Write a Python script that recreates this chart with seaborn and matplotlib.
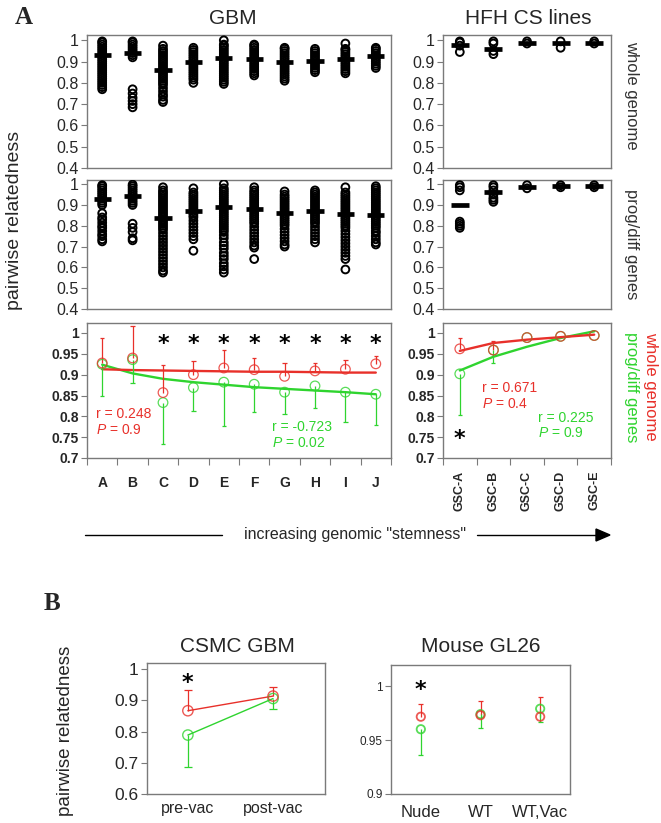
import numpy as np
import pandas as pd
import matplotlib
matplotlib.use("Agg")
import matplotlib.pyplot as plt
import seaborn as sns

sns.set_style("white")
plt.rcParams["font.family"] = ["Liberation Sans", "DejaVu Sans"]
plt.rcParams["mathtext.fontset"] = "custom"
plt.rcParams["mathtext.rm"] = "Liberation Sans"
plt.rcParams["mathtext.it"] = "Liberation Sans:italic"

# ---------------- data ----------------
gbm_cats = ["A", "B", "C", "D", "E", "F", "G", "H", "I", "J"]
hfh_cats = ["GSC-A", "GSC-B", "GSC-C", "GSC-D", "GSC-E"]

gbm_whole = [
    [0.770, 0.780, 0.790, 0.800, 0.810, 0.820, 0.830, 0.840, 0.850, 0.860, 0.870, 0.880, 0.890, 0.900, 0.910, 0.920, 0.930, 0.940, 0.950, 0.960, 0.970, 0.980, 0.990, 0.995],
    [0.685, 0.700, 0.715, 0.730, 0.750, 0.770, 0.920, 0.930, 0.940, 0.950, 0.960, 0.970, 0.980, 0.990, 0.995],
    [0.710, 0.720, 0.735, 0.745, 0.760, 0.775, 0.790, 0.800, 0.810, 0.820, 0.830, 0.840, 0.850, 0.860, 0.870, 0.880, 0.890, 0.900, 0.910, 0.920, 0.930, 0.940, 0.950, 0.960, 0.975],
    [0.800, 0.815, 0.825, 0.835, 0.845, 0.855, 0.865, 0.875, 0.885, 0.895, 0.905, 0.915, 0.925, 0.935, 0.945, 0.955, 0.965],
    [0.795, 0.805, 0.815, 0.825, 0.835, 0.845, 0.855, 0.865, 0.875, 0.885, 0.895, 0.905, 0.915, 0.925, 0.935, 0.945, 0.955, 0.965, 0.975, 0.980, 1.000],
    [0.835, 0.845, 0.855, 0.865, 0.875, 0.885, 0.895, 0.905, 0.915, 0.925, 0.935, 0.945, 0.955, 0.965, 0.975, 0.980],
    [0.810, 0.820, 0.830, 0.840, 0.850, 0.860, 0.870, 0.880, 0.890, 0.900, 0.910, 0.920, 0.930, 0.940, 0.950, 0.960, 0.965],
    [0.850, 0.860, 0.870, 0.880, 0.890, 0.900, 0.910, 0.920, 0.930, 0.940, 0.950, 0.960],
    [0.845, 0.855, 0.865, 0.875, 0.885, 0.895, 0.905, 0.915, 0.925, 0.935, 0.945, 0.955, 0.960, 0.985],
    [0.870, 0.880, 0.890, 0.900, 0.910, 0.920, 0.930, 0.940, 0.950, 0.960, 0.965],
]
gbm_whole_mean = [0.933, 0.940, 0.860, 0.900, 0.915, 0.912, 0.900, 0.905, 0.913, 0.928]

gbm_prog = [
    [0.725, 0.735, 0.750, 0.760, 0.775, 0.790, 0.800, 0.815, 0.830, 0.840, 0.860, 0.900, 0.910, 0.920, 0.930, 0.940, 0.950, 0.960, 0.970, 0.980, 0.990, 0.995],
    [0.730, 0.740, 0.770, 0.790, 0.810, 0.900, 0.910, 0.920, 0.930, 0.940, 0.950, 0.960, 0.970, 0.980, 0.990, 0.998],
    [0.575, 0.585, 0.600, 0.615, 0.630, 0.645, 0.660, 0.675, 0.690, 0.705, 0.720, 0.735, 0.750, 0.765, 0.780, 0.790, 0.800, 0.810, 0.820, 0.830, 0.840, 0.850, 0.860, 0.870, 0.880, 0.890, 0.900, 0.910, 0.920, 0.930, 0.940, 0.950, 0.960, 0.970, 0.985],
    [0.680, 0.735, 0.750, 0.765, 0.780, 0.795, 0.810, 0.825, 0.840, 0.850, 0.860, 0.870, 0.880, 0.890, 0.900, 0.910, 0.920, 0.930, 0.940, 0.950, 0.960, 0.980],
    [0.575, 0.590, 0.605, 0.620, 0.640, 0.655, 0.670, 0.690, 0.705, 0.720, 0.740, 0.755, 0.770, 0.780, 0.790, 0.800, 0.810, 0.820, 0.830, 0.840, 0.850, 0.860, 0.870, 0.880, 0.890, 0.900, 0.910, 0.920, 0.930, 0.940, 0.950, 0.960, 0.970, 0.980, 1.000],
    [0.640, 0.695, 0.705, 0.720, 0.735, 0.750, 0.765, 0.780, 0.795, 0.810, 0.820, 0.830, 0.840, 0.850, 0.860, 0.870, 0.880, 0.890, 0.900, 0.910, 0.920, 0.930, 0.940, 0.950, 0.960, 0.970, 0.985],
    [0.700, 0.710, 0.725, 0.740, 0.755, 0.770, 0.785, 0.800, 0.810, 0.820, 0.830, 0.840, 0.850, 0.860, 0.870, 0.880, 0.890, 0.900, 0.910, 0.920, 0.930, 0.940, 0.950, 0.965],
    [0.720, 0.735, 0.750, 0.765, 0.780, 0.795, 0.810, 0.820, 0.830, 0.840, 0.850, 0.860, 0.870, 0.880, 0.890, 0.900, 0.910, 0.920, 0.930, 0.940, 0.950, 0.960, 0.970],
    [0.590, 0.640, 0.655, 0.670, 0.685, 0.700, 0.715, 0.730, 0.745, 0.760, 0.775, 0.790, 0.800, 0.810, 0.820, 0.830, 0.840, 0.850, 0.860, 0.870, 0.880, 0.890, 0.900, 0.910, 0.920, 0.930, 0.940, 0.950, 0.960, 0.985],
    [0.710, 0.720, 0.735, 0.750, 0.765, 0.775, 0.790, 0.800, 0.810, 0.820, 0.830, 0.840, 0.850, 0.860, 0.870, 0.880, 0.890, 0.900, 0.910, 0.920, 0.930, 0.940, 0.950, 0.960, 0.970, 0.980, 0.990],
]
gbm_prog_mean = [0.929, 0.945, 0.835, 0.873, 0.889, 0.881, 0.862, 0.873, 0.857, 0.854]

hfh_whole = [
    [0.995, 0.990, 0.975, 0.945],
    [0.995, 0.985, 0.950, 0.935],
    [0.995, 0.985],
    [0.995, 0.965],
    [0.995, 0.985],
]
hfh_whole_mean = [0.976, 0.960, 0.989, 0.989, 0.989]

hfh_prog = [
    [0.995, 0.985, 0.970, 0.820, 0.810, 0.800, 0.790],
    [0.995, 0.985, 0.970, 0.950, 0.935, 0.925, 0.915],
    [0.995, 0.980],
    [0.995, 0.985],
    [0.995, 0.985],
]
hfh_prog_mean = [0.900, 0.963, 0.987, 0.990, 0.990]

gbm_red_mean = [0.928, 0.940, 0.857, 0.900, 0.916, 0.912, 0.896, 0.909, 0.913, 0.926]
gbm_red_upper = [0.988, 1.017, 0.924, 0.932, 0.960, 0.940, 0.929, 0.928, 0.934, 0.945]
gbm_green_mean = [0.925, 0.936, 0.833, 0.869, 0.882, 0.877, 0.858, 0.873, 0.858, 0.853]
gbm_green_lower = [0.850, 0.880, 0.733, 0.813, 0.777, 0.811, 0.806, 0.820, 0.786, 0.780]
gbm_red_fit = [0.913, 0.911, 0.910, 0.909, 0.908, 0.907, 0.907, 0.906, 0.905, 0.905]
gbm_green_fit = [0.924, 0.903, 0.890, 0.882, 0.876, 0.870, 0.866, 0.862, 0.858, 0.853]
gbm_stars = ["C", "D", "E", "F", "G", "H", "I", "J"]

hfh_red_mean = [0.962, 0.959, 0.989, 0.992, 0.994]
hfh_red_upper = [0.988, 0.980, 0.989, 0.992, 0.994]
hfh_green_mean = [0.902, 0.959, 0.989, 0.992, 0.994]
hfh_green_lower = [0.804, 0.927, 0.989, 0.992, 0.994]
hfh_red_fit = [0.957, 0.976, 0.984, 0.990, 0.996]
hfh_green_fit = [0.910, 0.943, 0.967, 0.988, 1.004]

csmc_cats = ["pre-vac", "post-vac"]
csmc_red_mean = [0.867, 0.914]
csmc_red_upper = [0.935, 0.944]
csmc_green_mean = [0.789, 0.906]
csmc_green_lower = [0.687, 0.874]

gl26_cats = ["Nude", "WT", "WT,Vac"]
gl26_red_mean = [0.9716, 0.9730, 0.9716]
gl26_red_upper = [0.9830, 0.9864, 0.9900]
gl26_green_mean = [0.9600, 0.9740, 0.9790]
gl26_green_lower = [0.9360, 0.9610, 0.9670]

# ---------------- style ----------------
RED = "#e8302a"
GREEN = "#2fd42f"
FRAME = "#7a7a7a"
W, H = 661, 823
fig = plt.figure(figsize=(W / 100, H / 100), dpi=100)


def add_ax(l, t, r, b):
    return fig.add_axes([l / W, 1 - b / H, (r - l) / W, (b - t) / H])


def frame(ax):
    for s in ax.spines.values():
        s.set_visible(True)
        s.set_color(FRAME)
        s.set_linewidth(1.0)
    ax.tick_params(axis="y", direction="out", length=4, width=0.8, color=FRAME, pad=2, left=True)


def ftext(px, py, s, **kw):
    fig.text(px / W, 1 - py / H, s, **kw)


def strip_panel(ax, cats, values, means, halfw):
    df = pd.DataFrame({
        "cat": [c for c, v in zip(cats, values) for _ in v],
        "val": [x for v in values for x in v],
    })
    sns.stripplot(data=df, x="cat", y="val", order=cats, jitter=False, ax=ax,
                  color="black", size=5.6, linewidth=1.4, edgecolor="black")
    for coll in ax.collections:
        coll.set_facecolor("none")
        coll.set_edgecolor("black")
    xs = np.arange(len(cats))
    ax.hlines(means, xs - halfw, xs + halfw, color="black", lw=3.4, zorder=5)
    ax.set_xlim(-0.5, len(cats) - 0.5)
    ax.set_xticks([])
    ax.set_xlabel("")
    ax.set_ylabel("")
    ax.set_yticks([0.4, 0.5, 0.6, 0.7, 0.8, 0.9, 1.0])
    ax.set_yticklabels(["0.4", "0.5", "0.6", "0.7", "0.8", "0.9", "1"], fontsize=11.5)
    frame(ax)


def open_points(ax, x, y, color, s, lw):
    sns.scatterplot(x=x, y=y, ax=ax, color=color, s=s, marker="o", zorder=6, legend=False)
    coll = ax.collections[-1]
    coll.set_facecolor("none")
    coll.set_edgecolor(color)
    coll.set_linewidth(lw)
    coll.set_alpha(0.8)


def one_sided(ax, x, mean, end, color, capw, lw=0.9):
    x = np.asarray(x, float)
    mean = np.asarray(mean)
    end = np.asarray(end)
    keep = np.abs(end - mean) > 1e-6
    ax.vlines(x[keep], mean[keep], end[keep], color=color, lw=lw, zorder=4)
    ax.hlines(end[keep], x[keep] - capw, x[keep] + capw, color=color, lw=lw, zorder=4)


def star(ax, x, y, fs=16):
    ax.annotate("*", xy=(x, y), xytext=(0, -0.58 * fs), textcoords="offset points",
                ha="center", va="baseline", fontsize=fs, fontweight="bold", color="black",
                family="DejaVu Sans")


# ---------------- panel A: strips ----------------
ax1 = add_ax(87, 35, 391, 168)
strip_panel(ax1, gbm_cats, gbm_whole, gbm_whole_mean, 0.28)
ax1.set_ylim(0.4, 1.025)

ax2 = add_ax(87, 180, 391, 309)
strip_panel(ax2, gbm_cats, gbm_prog, gbm_prog_mean, 0.28)
ax2.set_ylim(0.4, 1.02)

ax4 = add_ax(443, 35, 611, 168)
strip_panel(ax4, hfh_cats, hfh_whole, hfh_whole_mean, 0.27)
ax4.set_ylim(0.4, 1.025)

ax5 = add_ax(443, 180, 611, 309)
strip_panel(ax5, hfh_cats, hfh_prog, hfh_prog_mean, 0.27)
ax5.set_ylim(0.4, 1.02)


# ---------------- panel A: lines ----------------
def line_panel(ax, cats, red_fit, green_fit, red_mean, red_up, green_mean, green_low, capw):
    xs = np.arange(len(cats))
    sns.lineplot(x=xs, y=green_fit, ax=ax, color=GREEN, lw=1.7, zorder=3)
    sns.lineplot(x=xs, y=red_fit, ax=ax, color=RED, lw=1.7, zorder=3)
    one_sided(ax, xs, red_mean, red_up, RED, capw)
    one_sided(ax, xs, green_mean, green_low, GREEN, capw)
    open_points(ax, xs, green_mean, GREEN, 48, 0.9)
    open_points(ax, xs, red_mean, RED, 48, 0.9)
    ax.set_xlim(-0.5, len(cats) - 0.5)
    ax.set_ylim(0.7, 1.024)
    ax.set_yticks([0.7, 0.75, 0.8, 0.85, 0.9, 0.95, 1.0])
    ax.set_yticklabels(["0.7", "0.75", "0.8", "0.85", "0.9", "0.95", "1"],
                       fontsize=10, fontweight="bold")
    ax.set_xticks(xs)
    ax.set_xticks(np.arange(-0.5, len(cats)), minor=True)
    ax.set_xlabel("")
    ax.set_ylabel("")
    frame(ax)
    ax.tick_params(axis="x", which="major", length=0)
    ax.tick_params(axis="x", which="minor", direction="out", length=5, width=0.8,
                   color=FRAME, bottom=True)


ax3 = add_ax(87, 323, 391, 458)
line_panel(ax3, gbm_cats, gbm_red_fit, gbm_green_fit, gbm_red_mean, gbm_red_upper,
           gbm_green_mean, gbm_green_lower, 0.07)
ax3.set_xticklabels(gbm_cats, fontsize=10, fontweight="bold")
ax3.tick_params(axis="x", which="major", pad=13)
for c in gbm_stars:
    star(ax3, gbm_cats.index(c), 0.991)
ax3.text(-0.2, 0.806, "r = 0.248", color=RED, fontsize=10, va="center", ha="left")
ax3.text(-0.2, 0.767, r"$P$ = 0.9", color=RED, fontsize=10, va="center", ha="left")
ax3.text(5.57, 0.774, "r = -0.723", color=GREEN, fontsize=10, va="center", ha="left")
ax3.text(5.57, 0.736, r"$P$ = 0.02", color=GREEN, fontsize=10, va="center", ha="left")

ax6 = add_ax(443, 323, 611, 458)
line_panel(ax6, hfh_cats, hfh_red_fit, hfh_green_fit, hfh_red_mean, hfh_red_upper,
           hfh_green_mean, hfh_green_lower, 0.06)
ax6.set_xticklabels(hfh_cats, fontsize=9, fontweight="bold", rotation=90, va="top")
ax6.tick_params(axis="x", which="major", pad=9)
star(ax6, 0, 0.763)
ax6.text(0.66, 0.868, "r = 0.671", color=RED, fontsize=10, va="center", ha="left")
ax6.text(0.66, 0.829, r"$P$ = 0.4", color=RED, fontsize=10, va="center", ha="left")
ax6.text(2.33, 0.795, "r = 0.225", color=GREEN, fontsize=10, va="center", ha="left")
ax6.text(2.33, 0.760, r"$P$ = 0.9", color=GREEN, fontsize=10, va="center", ha="left")

# ---------------- panel B ----------------
ax7 = add_ax(147, 663, 325, 794)
bx = np.arange(len(csmc_cats))
sns.lineplot(x=bx, y=csmc_red_mean, ax=ax7, color=RED, lw=1.0, zorder=3)
sns.lineplot(x=bx, y=csmc_green_mean, ax=ax7, color=GREEN, lw=1.0, zorder=3)
one_sided(ax7, bx, csmc_red_mean, csmc_red_upper, RED, 0.05)
one_sided(ax7, bx, csmc_green_mean, csmc_green_lower, GREEN, 0.05)
open_points(ax7, bx, csmc_green_mean, GREEN, 55, 1.0)
open_points(ax7, bx, csmc_red_mean, RED, 55, 1.0)
star(ax7, 0, 0.978)
ax7.set_xlim(-0.48, 1.61)
ax7.set_ylim(0.6, 1.02)
ax7.set_yticks([0.6, 0.7, 0.8, 0.9, 1.0])
ax7.set_yticklabels(["0.6", "0.7", "0.8", "0.9", "1"], fontsize=12.5)
ax7.set_xticks(bx)
ax7.set_xticklabels(csmc_cats, fontsize=11.5)
ax7.set_xlabel("")
ax7.set_ylabel("")
frame(ax7)
ax7.tick_params(axis="x", length=0, pad=5)

ax8 = add_ax(391, 665, 570, 794)
gx = np.arange(len(gl26_cats))
one_sided(ax8, gx, gl26_red_mean, gl26_red_upper, RED, 0.04)
one_sided(ax8, gx, gl26_green_mean, gl26_green_lower, GREEN, 0.04)
open_points(ax8, gx, gl26_green_mean, GREEN, 36, 1.3)
open_points(ax8, gx, gl26_red_mean, RED, 36, 1.3)
star(ax8, 0, 1.0025)
ax8.set_xlim(-0.5, 2.5)
ax8.set_ylim(0.9, 1.0195)
ax8.set_yticks([0.9, 0.95, 1.0])
ax8.set_yticklabels(["0.9", "0.95", "1"], fontsize=8.5)
ax8.set_xticks(gx)
ax8.set_xticklabels(gl26_cats, fontsize=12)
ax8.set_xlabel("")
ax8.set_ylabel("")
frame(ax8)
ax8.tick_params(axis="x", length=0, pad=8)

# ---------------- labels ----------------
ftext(24, 17, "A", family="Liberation Serif", fontweight="bold", fontsize=18, ha="center", va="center")
ftext(52, 604, "B", family="Liberation Serif", fontweight="bold", fontsize=18, ha="center", va="center")
ftext(233, 18, "GBM", fontsize=15, ha="center", va="center")
ftext(528, 18, "HFH CS lines", fontsize=15, ha="center", va="center")
ftext(15, 220, "pairwise relatedness", fontsize=14, rotation=90, ha="center", va="center")
ftext(632, 95, "whole genome", fontsize=12, rotation=270, ha="center", va="center", color="#333333")
ftext(632, 244, "prog/diff genes", fontsize=12, rotation=270, ha="center", va="center", color="#333333")
ftext(651, 386, "whole genome", fontsize=12, rotation=270, ha="center", va="center", color=RED)
ftext(631, 387, "prog/diff genes", fontsize=12, rotation=270, ha="center", va="center", color=GREEN)

ftext(237, 647, "CSMC GBM", fontsize=15, ha="center", va="center")
ftext(481, 647, "Mouse GL26", fontsize=15, ha="center", va="center")
ftext(66, 731, "pairwise relatedness", fontsize=13.5, rotation=90, ha="center", va="center")

# arrow
ftext(355, 535, 'increasing genomic "stemness"', fontsize=11.5, ha="center", va="center")
fig.add_artist(plt.Line2D([85 / W, 222 / W], [1 - 535 / H, 1 - 535 / H], color="black", lw=1.0))
fig.add_artist(plt.Line2D([477 / W, 598 / W], [1 - 535 / H, 1 - 535 / H], color="black", lw=1.0))
fig.patches.append(plt.Polygon([[596 / W, 1 - 529 / H], [610 / W, 1 - 535 / H], [596 / W, 1 - 541 / H]],
                               closed=True, color="black", transform=fig.transFigure, figure=fig))

fig.savefig("out.png", dpi=100)
